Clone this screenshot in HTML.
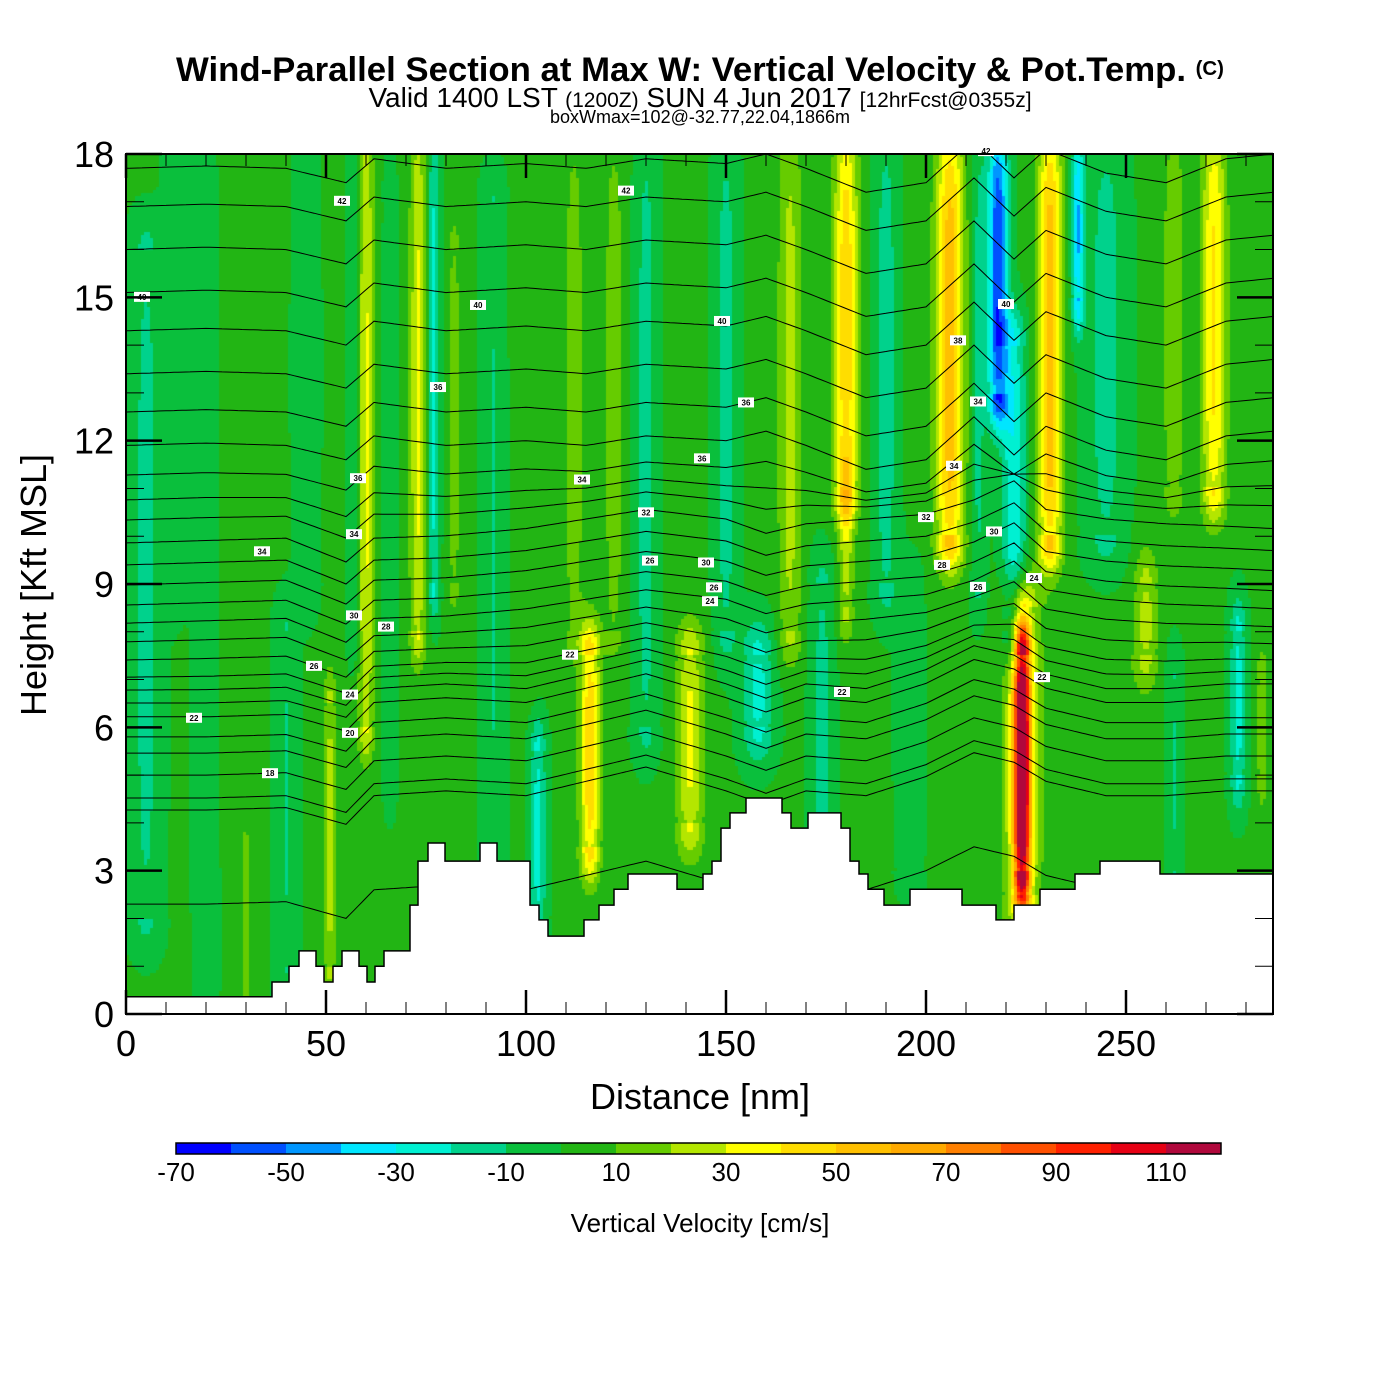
<!DOCTYPE html>
<html><head><meta charset="utf-8"><style>
body{margin:0;background:#fff;}
#wrap{position:relative;width:1400px;height:1400px;background:#fff;font-family:"Liberation Sans",sans-serif;}
#field{position:absolute;left:126px;top:154px;}
svg{position:absolute;left:0;top:0;}
</style></head><body>
<div id="wrap">
<canvas id="field" width="1147" height="860"></canvas>
<svg id="ov" width="1400" height="1400"></svg>
</div>
<script>
// ---- data ----
const colorBins = [-70,-60,-50,-40,-30,-20,-10,0,10,20,30,40,50,60,70,80,90,100,110];
const binColors = ["#0000ff","#0050ff","#0096ff","#00e6ff","#00f0d2","#00d28c","#0abf3c","#22b514","#66cc00","#b4e600","#ffff00","#ffdd00","#ffc000","#ffaa00","#ff8000","#ff5000","#ff2000","#e60014","#b0083c"];
const cbLabels = [-70,-50,-30,-10,10,30,50,70,90,110];
const xTicks = [0,50,100,150,200,250];
const yTicks = [0,3,6,9,12,15,18];
const baseW = 1.5;
// stripes: center nm, half width nm, value cm/s, bottom kft, top kft
const stripeC = [5,20,40,51,30,60,57,66,73,77,82,92,103,116,112,130,141,150,158,166,174,180,180,190,206,213,218,222,224,224,231,238,245,255,262,272,278,284,262,12,45,122,28,100,196,250];
const stripeW = [4,3,3,1.5,1,2,1.5,1.5,2,1.5,2,3,2,2.5,3,3,3.5,3,4,3,3,3,2,3,3.5,2,2.5,3,2,4.5,3,1.5,5,3,3,3,2,1.5,2,3,3,3,5,4,4,4];
const stripeV = [-14,-9,-12,22,16,30,-12,-12,30,-25,12,-12,-25,45,12,-15,30,-15,-25,22,-14,45,22,-16,55,-14,-60,-30,108,35,55,-40,-15,22,15,40,-25,15,-12,-8,-10,12,4,4,-5,4];
const stripeB = [2,0,1,1,0.5,6,8,5,8,9,9,3,2,3.5,8,6,4,8,6,8,3,11,8.5,9,10,9,13,8,3,2.5,10,15,10,7.5,11,11,5,5,3,9,9,8,4,7,3,3];
const stripeT = [16,18,8,6.5,3,18,18,17,18,18,16,17,5.5,7.5,18,18,7.5,18,7.5,18,9,18,11,18,18,18,18,14,7.5,8.5,18,18,18,9,18,18,8,7,7,18,18,18,18,18,9,7];
// terrain steps: start nm, height kft
const terrX = [0,36.5,40.75,43.25,47.5,49.5,51.75,54,58.25,60.25,62.25,64.5,71,73,75.5,79.75,88.5,92.75,101,103.25,105.5,114.5,118.25,122,125.5,137.75,144.25,146.5,148.75,151,155,164,166.25,170.5,178.75,181,183.25,185.5,189.5,196,209,217.5,222,228.5,237.25,243.5,258.5];
const terrH = [0.36,0.67,1.0,1.32,1.0,0.67,1.0,1.32,1.0,0.67,1.0,1.32,2.28,3.2,3.58,3.2,3.58,3.2,2.28,1.97,1.63,1.97,2.28,2.61,2.93,2.61,2.93,3.2,3.89,4.21,4.52,4.21,3.89,4.21,3.89,3.2,2.93,2.61,2.28,2.61,2.28,1.97,2.28,2.61,2.93,3.2,2.93];
// isentropes: left-edge heights (kft) and displacement profiles
const thetaLevels = [2.3,4.27,4.52,5.0,5.46,5.8,6.22,6.51,6.78,7.05,7.41,7.79,8.18,8.56,8.98,9.4,9.86,10.34,10.76,11.28,11.9,12.6,13.4,14.3,15.1,16.0,16.9,17.7];
const dispX = [0,20,40,55,62,80,100,115,130,150,160,170,185,200,212,222,230,245,260,275,287];
const dispLow = [0,0,0.05,-0.3,0.3,0.4,0.3,0.6,0.9,0.4,0.1,0.4,0.3,0.7,1.2,1.0,0.6,0.3,0.3,0.4,0.4];
const dispMid = [0,0.05,0.1,-0.4,0.1,0.15,0.3,0.5,0.7,0.5,0.2,0.4,0.5,0.6,0.9,1.3,0.7,0.5,0.4,0.35,0.3];
const dispHigh = [0,0.05,0,-0.3,0.2,0,0.1,0,0.2,0.1,0.3,0,-0.5,-0.3,0.6,-0.2,0.4,-0.1,-0.3,0.2,0.3];
const isoLabels = [["40",4,15.0],["42",54,17.3],["42",125,17.1],["40",88,14.8],["40",149,14.4],["36",78,13.1],["36",155,12.6],["36",144,11.5],["36",58,11.3],["34",57,10.3],["34",114,10.7],["34",34,9.6],["32",130,9.8],["32",200,9.8],["34",207,10.7],["30",57,8.6],["30",145,8.9],["28",65,8.0],["26",147,8.4],["26",131,8.8],["24",146,8.1],["26",47,7.4],["24",56,6.9],["22",17,6.2],["20",56,6.1],["18",36,5.0],["22",111,7.0],["22",179,6.4],["30",217,9.0],["28",204,8.7],["26",213,8.0],["24",227,8.2],["22",229,6.4],["38",208,13.8],["34",213,12.3],["40",220,14.9],["42",215,17.7]];

// ---- scales ----
const PX0=126, PX1=1273, PY0=154, PY1=1014;
const X = nm => PX0 + nm*(PX1-PX0)/286.75;
const Y = k => PY1 - k*(PY1-PY0)/18;
const NS='http://www.w3.org/2000/svg';
const svg=document.getElementById('ov');
function mk(tag,attrs,parent){const e=document.createElementNS(NS,tag);for(const k in attrs)e.setAttribute(k,attrs[k]);(parent||svg).appendChild(e);return e;}
function interp(xs,ys,x){if(x<=xs[0])return ys[0];for(let i=1;i<xs.length;i++){if(x<=xs[i]){const t=(x-xs[i-1])/(xs[i]-xs[i-1]);return ys[i-1]+t*(ys[i]-ys[i-1]);}}return ys[ys.length-1];}
function colorFor(v){let i=0;for(let k=0;k<colorBins.length;k++){if(v>=colorBins[k])i=k;}return binColors[i];}

// ---- field ----
const cv=document.getElementById('field');const ctx=cv.getContext('2d');
const cell=3;
for(let py=0;py<860;py+=cell){
  const k=(860-py-cell/2)*18/860;
  for(let px=0;px<1147;px+=cell){
    const nm=(px+cell/2)*286.75/1147;
    let v=baseW;
    for(let s=0;s<stripeC.length;s++){
      const dx=(nm-stripeC[s])/stripeW[s];
      if(Math.abs(dx)>3)continue;
      let gy;
      if(k<stripeB[s])gy=Math.exp(-Math.pow((stripeB[s]-k)/0.8,2));
      else if(k>stripeT[s])gy=Math.exp(-Math.pow((k-stripeT[s])/0.8,2));
      else {const mid=(stripeB[s]+stripeT[s])/2,hh=(stripeT[s]-stripeB[s])/2;gy=1-0.35*Math.pow((k-mid)/hh,4);}
      v+=stripeV[s]*Math.exp(-dx*dx)*gy;
    }
    ctx.fillStyle=colorFor(v);ctx.fillRect(px,py,cell,cell);
  }
}

// ---- isentropes ----
mk('clipPath',{id:'pc'});
const cr=mk('rect',{x:PX0,y:PY0,width:PX1-PX0,height:PY1-PY0},svg.querySelector('#pc'));
const lg=mk('g',{'clip-path':'url(#pc)'});


thetaLevels.forEach((L,i)=>{
  let pts=[];
  for(let nm=0;nm<=287;nm+=1){
    const lo=interp(dispX,dispLow,nm),mi=interp(dispX,dispMid,nm),hi=interp(dispX,dispHigh,nm);
    let d;
    if(L<=6.5)d=lo;else if(L<8){const t=(L-6.5)/1.5;d=lo*(1-t)+mi*t;}
    else if(L<=10)d=mi;else if(L<11.5){const t=(L-10)/1.5;d=mi*(1-t)+hi*t;}else d=hi;
    pts.push(X(nm).toFixed(1)+','+Y(L+d).toFixed(1));
  }
  const p=mk('polyline',{points:pts.join(' '),fill:'none',stroke:'#000','stroke-width':1},lg);
  
  
});

// ---- terrain ----
let tp=[X(0)+','+Y(0)];
terrX.forEach((x0,i)=>{const x1=i+1<terrX.length?terrX[i+1]:287;tp.push(X(x0)+','+Y(terrH[i]));tp.push(X(x1)+','+Y(terrH[i]));});
tp.push(X(287)+','+Y(0));
const ter=mk('polygon',{points:tp.join(' '),fill:'#fff',stroke:'#000','stroke-width':1.5,'clip-path':'url(#pc)'});



// ---- isentrope labels ----
isoLabels.forEach(l=>{
  const g=mk('g',{});
  
  
  const h=l[2]+interp(dispX,l[2]<8?dispLow:(l[2]<11?dispMid:dispHigh),l[1]);
  mk('rect',{x:X(l[1])-8,y:Y(h)-5,width:16,height:10,fill:'#fff'},g);
  const t=mk('text',{x:X(l[1]),y:Y(h)+3,'font-size':8,'text-anchor':'middle','font-weight':'bold'},g);t.textContent=l[0];
});

// ---- frame & ticks ----
const fr=mk('rect',{x:PX0,y:PY0,width:PX1-PX0,height:PY1-PY0,fill:'none',stroke:'#000','stroke-width':2});


for(let nm=0;nm<=280;nm+=10){
  const maj=nm%50===0,len=maj?24:12;
  mk('line',{x1:X(nm),x2:X(nm),y1:PY1,y2:PY1-len,stroke:'#000','stroke-width':maj?2.5:1});
  mk('line',{x1:X(nm),x2:X(nm),y1:PY0,y2:PY0+len,stroke:'#000','stroke-width':maj?2.5:1});
}
for(let k=0;k<=18;k++){
  const maj=k%3===0,len=maj?36:18;
  mk('line',{x1:PX0,x2:PX0+len,y1:Y(k),y2:Y(k),stroke:'#000','stroke-width':maj?2.5:1});
  mk('line',{x1:PX1,x2:PX1-len,y1:Y(k),y2:Y(k),stroke:'#000','stroke-width':maj?2.5:1});
}
xTicks.forEach(v=>{const t=mk('text',{x:X(v),y:1056,'font-size':36,'text-anchor':'middle'});t.textContent=v;
  
  });
yTicks.forEach(v=>{const t=mk('text',{x:114,y:Y(v)+13,'font-size':36,'text-anchor':'end'});t.textContent=v;
  
  });

// ---- colorbar ----
const cbx0=176,cbw=55;
binColors.forEach((c,i)=>{const r=mk('rect',{x:cbx0+i*cbw,y:1143,width:cbw,height:11,fill:c});
  
  });
const cbf=mk('rect',{x:cbx0,y:1143,width:cbw*19,height:11,fill:'none',stroke:'#000','stroke-width':1.5});


cbLabels.forEach(v=>{const t=mk('text',{x:cbx0+(v+70)/10*cbw,y:1181,'font-size':26,'text-anchor':'middle'});t.textContent=v;
  
  });
</script>
<svg width="1400" height="1400" style="position:absolute;left:0;top:0;pointer-events:none">
<text x="700" y="81" font-size="34" font-weight="bold" text-anchor="middle" font-family="Liberation Sans,sans-serif" textLength="1048" lengthAdjust="spacingAndGlyphs">Wind-Parallel Section at Max W: Vertical Velocity &amp; Pot.Temp. <tspan font-size="20" dy="-6">(C)</tspan></text>
<text x="700" y="107" font-size="28" text-anchor="middle" font-family="Liberation Sans,sans-serif">Valid 1400 LST <tspan font-size="21">(1200Z)</tspan> SUN 4 Jun 2017 <tspan font-size="21">[12hrFcst@0355z]</tspan></text>
<text x="700" y="123" font-size="18" text-anchor="middle" font-family="Liberation Sans,sans-serif">boxWmax=102@-32.77,22.04,1866m</text>
<text x="700" y="1109" font-size="36" text-anchor="middle" font-family="Liberation Sans,sans-serif">Distance [nm]</text>
<text transform="translate(46,585) rotate(-90)" font-size="36" text-anchor="middle" font-family="Liberation Sans,sans-serif">Height [Kft MSL]</text>
<text x="700" y="1232" font-size="26" text-anchor="middle" font-family="Liberation Sans,sans-serif">Vertical Velocity [cm/s]</text>
</svg>
</body></html>
